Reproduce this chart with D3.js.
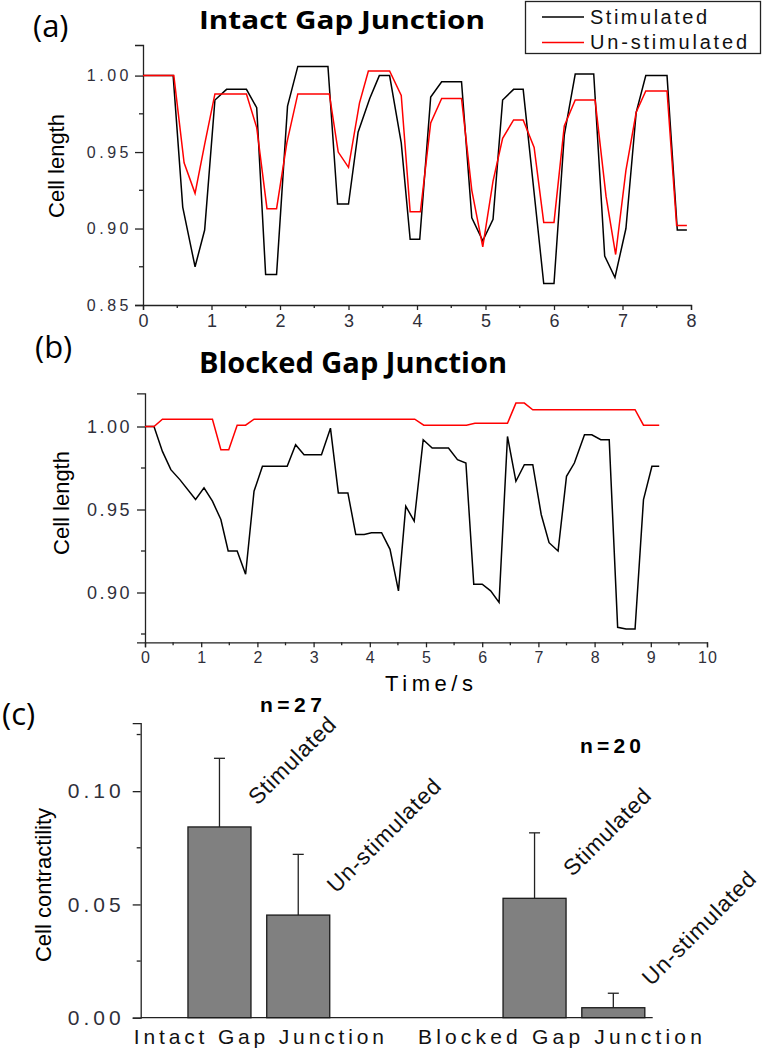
<!DOCTYPE html>
<html>
<head>
<meta charset="utf-8">
<script src="https://cdn.jsdelivr.net/npm/d3@7/dist/d3.min.js"></script>
<style>
  html, body { margin: 0; padding: 0; background: #fff; }
  svg { display: block; }
</style>
</head>
<body>
<svg id="chart" width="762" height="1050"></svg>
<script>
// ---------------- DATA ----------------
// Panel (a) Intact gap junction
const timeAStim   = [0,0.44,0.58,0.76,0.90,1.05,1.22,1.51,1.66,1.79,1.95,2.11,2.26,2.70,2.84,3.00,3.14,3.31,3.45,3.60,3.77,3.90,4.04,4.20,4.36,4.65,4.80,4.96,5.11,5.25,5.41,5.55,5.85,6.00,6.15,6.31,6.58,6.74,6.89,7.05,7.20,7.34,7.65,7.80,7.94];
const lengthAStim = [1.000,1.000,0.914,0.875,0.899,0.984,0.991,0.991,0.979,0.870,0.870,0.980,1.006,1.006,0.916,0.916,0.963,0.985,1.000,1.000,0.956,0.893,0.893,0.986,0.996,0.996,0.907,0.892,0.906,0.984,0.991,0.991,0.864,0.864,0.961,1.001,1.001,0.882,0.868,0.900,0.976,1.000,1.000,0.899,0.899];
const timeAUnst   = [0,0.45,0.60,0.76,0.90,1.05,1.51,1.66,1.81,1.95,2.10,2.26,2.72,2.85,3.00,3.16,3.29,3.60,3.77,3.90,4.05,4.20,4.36,4.65,4.80,4.96,5.11,5.25,5.41,5.55,5.71,5.85,6.00,6.15,6.31,6.60,6.76,6.90,7.05,7.20,7.34,7.65,7.79,7.94];
const lengthAUnst = [1.000,1.000,0.943,0.923,0.955,0.988,0.988,0.966,0.913,0.913,0.956,0.988,0.988,0.950,0.940,0.982,1.003,1.003,0.987,0.911,0.911,0.969,0.985,0.985,0.925,0.888,0.931,0.959,0.971,0.971,0.953,0.904,0.904,0.967,0.984,0.984,0.921,0.883,0.938,0.976,0.990,0.990,0.902,0.902];

// Panel (b) Blocked gap junction
const timeBStim   = [0,0.16,0.31,0.46,0.62,0.90,1.05,1.20,1.35,1.48,1.64,1.79,1.94,2.09,2.53,2.68,2.83,3.14,3.30,3.44,3.61,3.75,3.90,4.03,4.21,4.36,4.51,4.64,4.79,4.95,5.11,5.40,5.56,5.71,5.85,6.00,6.15,6.30,6.45,6.60,6.75,6.90,7.05,7.19,7.35,7.50,7.64,7.82,7.95,8.11,8.26,8.41,8.56,8.72,8.87,9.02,9.15];
const lengthBStim = [1.000,1.000,0.985,0.974,0.968,0.956,0.963,0.955,0.944,0.925,0.925,0.911,0.961,0.976,0.976,0.989,0.983,0.983,0.999,0.960,0.960,0.935,0.935,0.936,0.936,0.926,0.901,0.952,0.943,0.992,0.987,0.987,0.980,0.978,0.905,0.905,0.901,0.894,0.994,0.967,0.977,0.977,0.947,0.930,0.925,0.970,0.978,0.995,0.995,0.992,0.992,0.879,0.878,0.878,0.956,0.976,0.976];
const timeBUnst   = [0,0.16,0.31,1.20,1.35,1.49,1.64,1.79,1.94,4.80,4.96,5.72,5.87,6.45,6.60,6.75,6.90,8.72,8.87,9.15];
const lengthBUnst = [1.000,1.000,1.0044,1.0044,0.986,0.986,1.0008,1.0008,1.0044,1.0044,1.0008,1.0008,1.002,1.002,1.0141,1.0141,1.0101,1.0101,1.0008,1.0008];

// Panel (c) contractility
const groups      = ["Intact Gap Junction", "Blocked Gap Junction"];
const conditions  = ["Stimulated", "Un-stimulated"];
const meanContr   = [[0.0842, 0.0453], [0.0527, 0.0044]];
const errContr    = [[0.0303, 0.0268], [0.0289, 0.0064]];
const groupN      = ["n=27", "n=20"];

// Tick values
const ticksAX = [0,1,2,3,4,5,6,7,8];
const ticksAY = [0.85,0.90,0.95,1.00];
const ticksBX = [0,1,2,3,4,5,6,7,8,9,10];
const ticksBY = [0.90,0.95,1.00];
const ticksCY = [0.00,0.05,0.10];

// ---------------- DRAW ----------------
const svg = d3.select("#chart");
const ARIAL = "'Liberation Sans', Arial, sans-serif";
const TITLE = "'Open Sans', Lato, sans-serif";
const BLACK = "#000", RED = "#ff0000", AXIS = "#222", TICKTXT = "#2f2f3a";

function fmt2(v){ return d3.format(".2f")(v); }

function axisPanel(opt){
  const g = svg.append("g");
  const x = d3.scaleLinear().domain(opt.xd).range(opt.xr);
  const y = d3.scaleLinear().domain(opt.yd).range(opt.yr);
  const ya = d3.axisLeft(y).tickValues(opt.yt).tickSize(opt.ytick).tickFormat(fmt2).tickPadding(5);
  const yg = g.append("g").attr("transform", `translate(${opt.xr[0]},0)`).call(ya);
  yg.select(".domain").attr("stroke", AXIS).attr("stroke-width", 1.3);
  yg.selectAll(".tick line").attr("stroke", AXIS).attr("stroke-width", 1.3);
  yg.selectAll(".tick text").attr("font-family", ARIAL).attr("font-size", opt.yfs)
    .attr("letter-spacing", opt.yls).attr("fill", TICKTXT).attr("x", -opt.ytick - opt.ypad);
  if (opt.yminor) {
    g.append("g").selectAll("line").data(opt.yminor).join("line")
      .attr("x1", opt.xr[0] - 4).attr("x2", opt.xr[0]).attr("y1", d => y(d)).attr("y2", d => y(d))
      .attr("stroke", AXIS).attr("stroke-width", 1.3);
  }
  if (opt.xt) {
    const xa = d3.axisBottom(x).tickValues(opt.xt).tickSize(5).tickFormat(d3.format("d")).tickPadding(4);
    const xg = g.append("g").attr("transform", `translate(0,${opt.yr[0]})`).call(xa);
    xg.select(".domain").attr("stroke", AXIS).attr("stroke-width", 1.3);
    xg.selectAll(".tick line").attr("stroke", AXIS).attr("stroke-width", 1.3);
    xg.selectAll(".tick text").attr("font-family", ARIAL).attr("font-size", opt.xfs)
      .attr("fill", TICKTXT).attr("letter-spacing", 1).attr("dx", 0.5);
    const minor = d3.range(opt.xd[0] + 0.5, opt.xd[1], 1);
    g.append("g").selectAll("line").data(minor).join("line")
      .attr("x1", d => x(d)).attr("x2", d => x(d)).attr("y1", opt.yr[0]).attr("y2", opt.yr[0] + 3)
      .attr("stroke", AXIS).attr("stroke-width", 1.3);
  } else {
    g.append("line").attr("x1", opt.xr[0]).attr("x2", opt.xr[1]).attr("y1", opt.yr[0]).attr("y2", opt.yr[0])
      .attr("stroke", AXIS).attr("stroke-width", 1.3);
  }
  return {g, x, y};
}

function drawLine(p, xs, ys, color){
  const line = d3.line().x((d,i) => p.x(xs[i])).y((d,i) => p.y(ys[i]));
  p.g.append("path").datum(ys).attr("d", line).attr("fill", "none")
    .attr("stroke", color).attr("stroke-width", 1.5).attr("stroke-linejoin", "miter");
}

function label(txt, x, y, o){
  const t = svg.append("text").text(txt).attr("x", x).attr("y", y)
    .attr("font-family", o.ff || ARIAL).attr("font-size", o.fs).attr("fill", o.fill || "#000");
  if (o.fw) t.attr("font-weight", o.fw);
  if (o.anchor) t.attr("text-anchor", o.anchor);
  if (o.len) t.attr("textLength", o.len).attr("lengthAdjust", o.adj || "spacing");
  if (o.rot !== undefined) t.attr("transform", `rotate(${o.rot},${x},${y})`);
  return t;
}

// ---- Panel (a)
const pA = axisPanel({xd:[0,8], xr:[143,691], yd:[0.85,1.02], yr:[305,45], yt:ticksAY, xt:ticksAX,
  ytick:8, ypad:3, yfs:16, yls:3.5, xfs:18, yminor:[0.875,0.925,0.975]});
drawLine(pA, timeAStim, lengthAStim, BLACK);
drawLine(pA, timeAUnst, lengthAUnst, RED);
label("(a)", 33, 37, {ff:TITLE, fs:31});
label("Intact  Gap Junction", 199, 29, {ff:TITLE, fs:24.5, fw:"bold", len:286, adj:"spacingAndGlyphs"});
label("Cell length", 64, 166, {fs:22, anchor:"middle", rot:-90});

// legend
svg.append("rect").attr("x", 525.5).attr("y", 1.5).attr("width", 235).attr("height", 52)
  .attr("fill", "#fff").attr("stroke", "#222").attr("stroke-width", 1.3);
[BLACK, RED].forEach((c, i) => {
  const yy = 17 + i * 25.5;
  svg.append("line").attr("x1", 542).attr("x2", 584).attr("y1", yy).attr("y2", yy)
    .attr("stroke", c).attr("stroke-width", 1.5);
  label(conditions[i], 590, yy + 6.5, {fs:20, len: i === 0 ? 117 : 157, fill:"#111"});
});

// ---- Panel (b)
const pB = axisPanel({xd:[0,10], xr:[145,707], yd:[0.87,1.02], yr:[642.3,393.3], yt:ticksBY, xt:ticksBX,
  ytick:8, ypad:5, yfs:18, yls:2.5, xfs:16, yminor:[0.875,0.925,0.975]});
drawLine(pB, timeBStim, lengthBStim, BLACK);
drawLine(pB, timeBUnst, lengthBUnst, RED);
label("(b)", 35, 358, {ff:TITLE, fs:31});
label("Blocked Gap Junction", 199, 373, {ff:TITLE, fs:28, fw:"bold", len:308, adj:"spacingAndGlyphs"});
label("Cell length", 69, 503, {fs:22, anchor:"middle", rot:-90});
label("Time/s", 385, 691, {fs:22, len:88});

// ---- Panel (c)
const pC = axisPanel({xd:[0,6.5], xr:[140.7,652.7], yd:[0,0.13], yr:[1017.7,723.2], yt:ticksCY, xt:null,
  ytick:8, ypad:8, yfs:21, yls:4, yminor:[0.025,0.075,0.125]});
const barW = 0.8, capW = 0.14;
const catDx = [0, -14];
const catLen = [250, 284];
groups.forEach((grp, gi) => {
  conditions.forEach((cond, ci) => {
    const pos = 1 + gi * 4 + ci;
    const v = meanContr[gi][ci], e = errContr[gi][ci];
    const x0 = pC.x(pos - barW/2), x1 = pC.x(pos + barW/2), xc = pC.x(pos);
    pC.g.append("line").attr("x1", xc).attr("x2", xc).attr("y1", pC.y(v)).attr("y2", pC.y(v + e))
      .attr("stroke", "#222").attr("stroke-width", 1.3);
    pC.g.append("line").attr("x1", pC.x(pos - capW/2)).attr("x2", pC.x(pos + capW/2))
      .attr("y1", pC.y(v + e)).attr("y2", pC.y(v + e)).attr("stroke", "#222").attr("stroke-width", 1.3);
    pC.g.append("rect").attr("x", x0).attr("y", pC.y(v)).attr("width", x1 - x0)
      .attr("height", pC.y(0) - pC.y(v)).attr("fill", "#808080").attr("stroke", "#1a1a1a").attr("stroke-width", 1.3);
    label(cond, xc + 38, pC.y(v) - 21, {fs:22.5, rot:-45, len: ci === 0 ? 113 : 150, fill:"#111"});
  });
  const cx = (pC.x(1 + gi*4) + pC.x(2 + gi*4)) / 2 + catDx[gi];
  label(grp, cx - catLen[gi]/2, 1044, {fs:21, len:catLen[gi], fill:"#111"});
});
label(groupN[0], 260, 712, {fs:21, fw:"bold", len:62});
label(groupN[1], 580, 753, {fs:21, fw:"bold", len:61});
label("(c)", 2, 725, {ff:TITLE, fs:31});
label("Cell contractility", 51, 885, {fs:22, anchor:"middle", rot:-90});
</script>
</body>
</html>
